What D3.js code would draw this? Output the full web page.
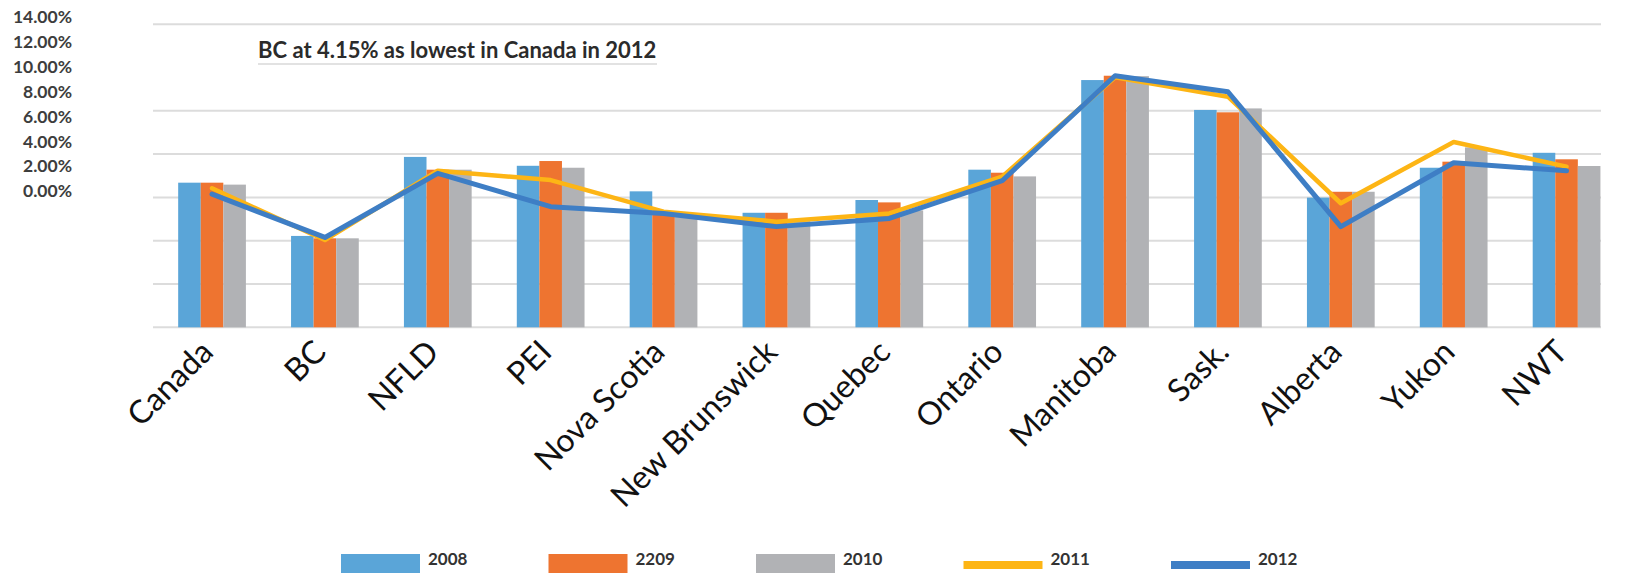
<!DOCTYPE html>
<html>
<head>
<meta charset="utf-8">
<script src="https://cdn.jsdelivr.net/npm/d3@7"></script>
<style>
  html, body { margin: 0; padding: 0; background: #fff; }
  svg { display: block; }
</style>
</head>
<body>
<script>
(function () {
  'use strict';

  const width = 1630,
    height = 573;

  // data (percent)
  var categories = ['Canada', 'BC', 'NFLD', 'PEI', 'Nova Scotia', 'New Brunswick', 'Quebec',
    'Ontario', 'Manitoba', 'Sask.', 'Alberta', 'Yukon', 'NWT'];
  var barSeries = ['2008', '2209', '2010'];
  var lineSeries = ['2011', '2012'];
  var values2008 = [6.68, 4.22, 7.87, 7.46, 6.28, 5.29, 5.88, 7.28, 11.42, 10.04, 5.99, 7.37, 8.06];
  var values2209 = [6.68, 4.11, 7.28, 7.68, 5.29, 5.29, 5.77, 7.14, 11.62, 9.93, 6.26, 7.65, 7.76];
  var values2010 = [6.59, 4.11, 7.28, 7.37, 5.20, 4.90, 5.40, 6.97, 11.60, 10.11, 6.26, 8.31, 7.45];
  var values2011 = [6.42, 4.03, 7.23, 6.80, 5.34, 4.88, 5.26, 6.96, 11.55, 10.65, 5.73, 8.56, 7.42];
  var values2012 = [6.15, 4.15, 7.11, 5.57, 5.26, 4.65, 5.03, 6.77, 11.62, 10.88, 4.65, 7.60, 7.23];
  var tickLabels = ['0.00%', '2.00%', '4.00%', '6.00%', '8.00%', '10.00%', '12.00%', '14.00%'];
  var tickValues = [0, 2, 4, 6, 8, 10, 12, 14];
  var gridValues = [0, 2, 4, 6, 8, 10, 14]; // the 12% line is not drawn in the original
  var title = 'BC at 4.15% as lowest in Canada in 2012';

  var colors = {
    '2008': '#5aa5d8',
    '2209': '#ee7430',
    '2010': '#b1b2b5',
    '2011': '#fdb515',
    '2012': '#3e7ec5'
  };

  var barValues = { '2008': values2008, '2209': values2209, '2010': values2010 };
  var lineValues = { '2011': values2011, '2012': values2012 };

  var svg = d3.select('body')
    .append('svg')
    .attr('width', width)
    .attr('height', height);

  var x = d3.scaleBand()
    .domain(categories)
    .range([155.6, 1623])
    .paddingInner(0.4)
    .paddingOuter(0.2);

  var xs = d3.scaleBand()
    .domain(barSeries)
    .range([0, x.bandwidth()]);

  var y = d3.scaleLinear()
    .domain([0, 14])
    .range([327.3, 24.2]);

  // the tick labels sit on their own (compressed) spacing in the original
  var yLabel = d3.scaleLinear()
    .domain([0, 14])
    .range([191, 17]);

  // gridlines
  svg.append('g')
    .selectAll('line')
    .data(gridValues)
    .enter()
    .append('line')
    .attr('x1', 153)
    .attr('x2', 1601)
    .attr('y1', d => y(d))
    .attr('y2', d => y(d))
    .style('stroke', '#dcdcdc')
    .style('stroke-width', 2);

  // y tick labels
  svg.append('g')
    .selectAll('text')
    .data(tickValues)
    .enter()
    .append('text')
    .attr('x', 72)
    .attr('y', d => yLabel(d))
    .attr('dy', '0.36em')
    .attr('text-anchor', 'end')
    .style('font-family', 'Lato, sans-serif')
    .style('font-weight', 700)
    .style('font-size', '17.5px')
    .style('fill', '#3d3d3d')
    .text((d, i) => tickLabels[i]);

  // bars
  var groups = svg.append('g')
    .selectAll('g')
    .data(categories)
    .enter()
    .append('g')
    .attr('transform', d => 'translate(' + x(d) + ',0)');

  groups.selectAll('rect')
    .data((d, i) => barSeries.map(s => ({ key: s, value: barValues[s][i] })))
    .enter()
    .append('rect')
    .attr('x', d => xs(d.key))
    .attr('width', xs.bandwidth())
    .attr('y', d => y(d.value))
    .attr('height', d => y(0) - y(d.value))
    .style('fill', d => colors[d.key]);

  // lines
  var line = d3.line()
    .x((d, i) => x(categories[i]) + x.bandwidth() / 2)
    .y(d => y(d));

  svg.append('g')
    .selectAll('path')
    .data(lineSeries)
    .enter()
    .append('path')
    .attr('d', d => line(lineValues[d]))
    .style('fill', 'none')
    .style('stroke', d => colors[d])
    .style('stroke-width', d => d === '2012' ? 5 : 4.5)
    .style('stroke-linejoin', 'round')
    .style('stroke-linecap', 'round');

  // title
  svg.append('line')
    .attr('x1', 258)
    .attr('x2', 657)
    .attr('y1', 64)
    .attr('y2', 64)
    .style('stroke', '#e2e2e2')
    .style('stroke-width', 2);

  svg.append('text')
    .attr('x', 258)
    .attr('y', 58)
    .style('font-family', 'Lato, sans-serif')
    .style('font-weight', 700)
    .style('font-size', '22px')
    .style('fill', '#2b2b2b')
    .text(title);

  // category labels, rotated
  svg.append('g')
    .selectAll('text')
    .data(categories)
    .enter()
    .append('text')
    .attr('transform', d => 'translate(' + (x(d) + x.bandwidth() / 2 - 5) + ',346) rotate(-45)')
    .attr('text-anchor', 'end')
    .attr('dy', '0.35em')
    .style('font-family', 'Lato, sans-serif')
    .style('font-size', '32px')
    .style('fill', '#111')
    .text(d => d);

  // legend
  var legendSeries = barSeries.concat(lineSeries);
  var lx = d3.scaleLinear()
    .domain([0, legendSeries.length - 1])
    .range([341, 1171]);

  var legend = svg.append('g')
    .selectAll('g')
    .data(legendSeries)
    .enter()
    .append('g')
    .attr('transform', (d, i) => 'translate(' + lx(i) + ',0)');

  legend.append('rect')
    .attr('x', 0)
    .attr('width', 79)
    .attr('y', d => lineSeries.indexOf(d) >= 0 ? 561 : 554)
    .attr('height', d => lineSeries.indexOf(d) >= 0 ? 8 : 20)
    .style('fill', d => colors[d]);

  legend.append('text')
    .attr('x', 87)
    .attr('y', 565)
    .style('font-family', 'Lato, sans-serif')
    .style('font-weight', 700)
    .style('font-size', '17px')
    .style('fill', '#333')
    .text(d => d);

})();
</script>
</body>
</html>
